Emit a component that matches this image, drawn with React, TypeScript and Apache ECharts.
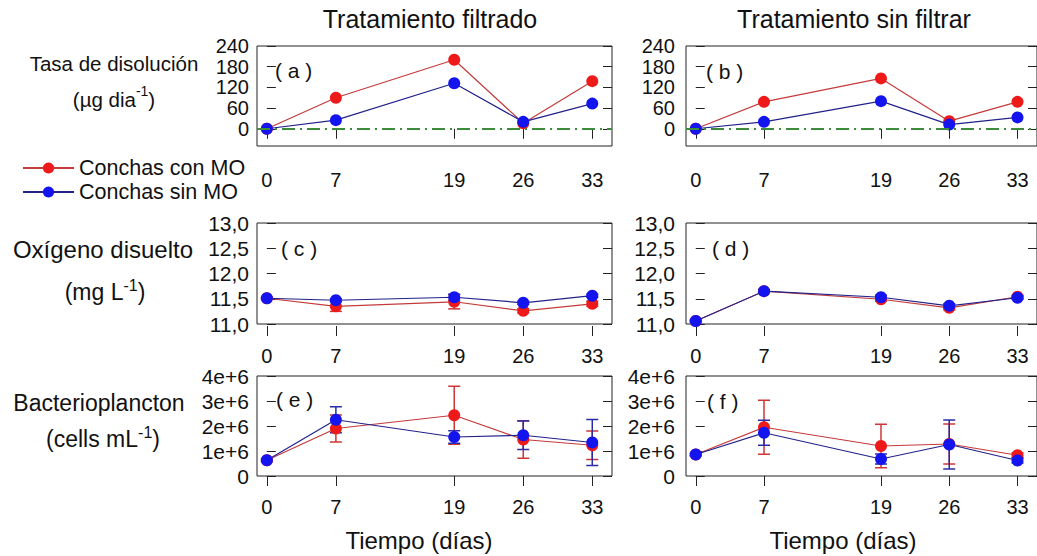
import React, { useEffect, useRef } from "react";
import * as echarts from "echarts";

// ---------- data ----------
const days = [0, 7, 19, 26, 33];

// Tasa de disolución (µg dia-1)
const rateFiltConMO = [0, 90, 200, 16, 138];
const rateFiltSinMO = [0, 25, 132, 20, 73];
const rateUnfConMO = [0, 78, 146, 22, 78];
const rateUnfSinMO = [0, 20, 80, 12, 33];

// Oxígeno disuelto (mg L-1)
const oxyFiltConMO = [11.51, 11.35, 11.44, 11.26, 11.4];
const oxyFiltConMOErr = [0.02, 0.1, 0.14, 0.04, 0.05];
const oxyFiltSinMO = [11.51, 11.47, 11.53, 11.42, 11.56];
const oxyFiltSinMOErr = [0.02, 0.03, 0.06, 0.03, 0.03];
const oxyUnfConMO = [11.06, 11.65, 11.49, 11.32, 11.54];
const oxyUnfConMOErr = [0.02, 0.03, 0.04, 0.04, 0.03];
const oxyUnfSinMO = [11.06, 11.65, 11.53, 11.36, 11.52];
const oxyUnfSinMOErr = [0.02, 0.03, 0.04, 0.04, 0.03];

// Bacterioplancton (cells mL-1)
const bacFiltConMO = [0.63e6, 1.9e6, 2.43e6, 1.46e6, 1.23e6];
const bacFiltConMOErr = [0.05e6, 0.54e6, 1.16e6, 0.75e6, 0.57e6];
const bacFiltSinMO = [0.63e6, 2.25e6, 1.56e6, 1.63e6, 1.34e6];
const bacFiltSinMOErr = [0.05e6, 0.52e6, 0.25e6, 0.57e6, 0.92e6];
const bacUnfConMO = [0.86e6, 1.95e6, 1.2e6, 1.28e6, 0.83e6];
const bacUnfConMOErr = [0.05e6, 1.08e6, 0.87e6, 0.8e6, 0.1e6];
const bacUnfSinMO = [0.86e6, 1.73e6, 0.68e6, 1.26e6, 0.62e6];
const bacUnfSinMOErr = [0.05e6, 0.5e6, 0.2e6, 0.98e6, 0.1e6];

// tick labels
const xTicks = [0, 7, 19, 26, 33];
const rateTicks = [0, 60, 120, 180, 240];
const oxyTicks = [11, 11.5, 12, 12.5, 13];
const bacTicks = [0, 1e6, 2e6, 3e6, 4e6];

const seriesNames = ["Conchas con MO", "Conchas sin MO"];
const colTitles = ["Tratamiento filtrado", "Tratamiento sin filtrar"];
const panelLetters = ["( a )", "( b )", "( c )", "( d )", "( e )", "( f )"];

// ---------- styles / layout ----------
const FONT = "'Liberation Sans', Arial, Helvetica, sans-serif";
const TXT = "#111";
const RED_PT = "#EE1A1A";
const BLUE_PT = "#1414EE";
const RED_LN = "#C53A3A";
const BLUE_LN = "#22228A";
const RED_ERR = "#D03434";
const BLUE_ERR = "#2A2AA8";

const cols = [
  { left: 257, width: 355 },
  { left: 686, width: 354 },
];
const rows = [
  { top: 46, height: 100 },
  { top: 223, height: 101 },
  { top: 376, height: 100 },
];

const rowAxes = [
  { min: -50, max: 240, ticks: rateTicks, fmt: (v: number) => String(v), size: 20 },
  { min: 11, max: 13, ticks: oxyTicks, fmt: (v: number) => v.toFixed(1).replace(".", ","), size: 21 },
  { min: 0, max: 4e6, ticks: bacTicks, fmt: (v: number) => (v === 0 ? "0" : `${Math.round(v / 1e6)}e+6`), size: 21 },
];
const xLabelMargin = [22, 20, 19];

type Panel = { con: number[]; sin: number[]; conErr?: number[]; sinErr?: number[] };
const panels: Panel[] = [
  { con: rateFiltConMO, sin: rateFiltSinMO },
  { con: rateUnfConMO, sin: rateUnfSinMO },
  { con: oxyFiltConMO, sin: oxyFiltSinMO, conErr: oxyFiltConMOErr, sinErr: oxyFiltSinMOErr },
  { con: oxyUnfConMO, sin: oxyUnfSinMO, conErr: oxyUnfConMOErr, sinErr: oxyUnfSinMOErr },
  { con: bacFiltConMO, sin: bacFiltSinMO, conErr: bacFiltConMOErr, sinErr: bacFiltSinMOErr },
  { con: bacUnfConMO, sin: bacUnfSinMO, conErr: bacUnfConMOErr, sinErr: bacUnfSinMOErr },
];

const letterPos = [
  [275, 70],
  [706, 71],
  [281, 248],
  [712, 248],
  [276, 399],
  [707, 401],
];

function errRender(color: string) {
  return (params: any, api: any) => {
    const x = api.value(0);
    const lo = api.coord([x, api.value(1)]);
    const hi = api.coord([x, api.value(2)]);
    const w = 6;
    const style = { stroke: color, lineWidth: 1.5 };
    return {
      type: "group",
      children: [
        { type: "line", shape: { x1: lo[0], y1: lo[1], x2: hi[0], y2: hi[1] }, style },
        { type: "line", shape: { x1: lo[0] - w, y1: lo[1], x2: lo[0] + w, y2: lo[1] }, style },
        { type: "line", shape: { x1: hi[0] - w, y1: hi[1], x2: hi[0] + w, y2: hi[1] }, style },
      ],
    };
  };
}

function buildOption() {
  const grid: any[] = [];
  const xAxis: any[] = [];
  const yAxis: any[] = [];
  const series: any[] = [];

  panels.forEach((p, i) => {
    const r = Math.floor(i / 2);
    const c = i % 2;
    const ax = rowAxes[r];
    grid.push({
      left: cols[c].left,
      width: cols[c].width,
      top: rows[r].top,
      height: rows[r].height,
      show: true,
      borderColor: "#222",
      borderWidth: 1,
      backgroundColor: "transparent",
    });
    xAxis.push({
      type: "value",
      gridIndex: i,
      min: -1,
      max: 35,
      position: "bottom",
      offset: 2,
      axisLine: { show: false },
      splitLine: { show: false },
      axisTick: { show: true, length: 10, lineStyle: { color: "#222", width: 1 }, customValues: xTicks },
      axisLabel: {
        customValues: xTicks,
        fontSize: 20,
        color: TXT,
        fontFamily: FONT,
        margin: xLabelMargin[r],
        hideOverlap: false,
      },
    });
    yAxis.push({
      type: "value",
      gridIndex: i,
      min: ax.min,
      max: ax.max,
      position: "left",
      axisLine: { show: false },
      splitLine: { show: false },
      axisTick: { show: true, inside: true, length: 9, lineStyle: { color: "#222", width: 1 }, customValues: ax.ticks },
      axisLabel: {
        customValues: ax.ticks,
        fontSize: ax.size,
        lineHeight: 12,
        color: TXT,
        fontFamily: FONT,
        margin: c === 0 ? 8 : 11,
        formatter: ax.fmt,
        hideOverlap: false,
        showMinLabel: true,
        showMaxLabel: true,
      },
    });
    yAxis.push({
      type: "value",
      gridIndex: i,
      min: ax.min,
      max: ax.max,
      position: "right",
      axisLine: { show: false },
      splitLine: { show: false },
      axisTick: { show: true, inside: true, length: 9, lineStyle: { color: "#222", width: 1 }, customValues: ax.ticks },
      axisLabel: { show: false },
    });

    if (p.conErr) {
      series.push({
        type: "custom",
        name: "errCon" + i,
        xAxisIndex: i,
        yAxisIndex: 2 * i,
        renderItem: errRender(RED_ERR),
        encode: { x: 0, y: [1, 2] },
        data: days.map((d, k) => [d, p.con[k] - p.conErr![k], p.con[k] + p.conErr![k]]),
        z: 1,
        silent: true,
      });
    }
    if (p.sinErr) {
      series.push({
        type: "custom",
        name: "errSin" + i,
        xAxisIndex: i,
        yAxisIndex: 2 * i,
        renderItem: errRender(BLUE_ERR),
        encode: { x: 0, y: [1, 2] },
        data: days.map((d, k) => [d, p.sin[k] - p.sinErr![k], p.sin[k] + p.sinErr![k]]),
        z: 1,
        silent: true,
      });
    }
    series.push({
      type: "line",
      name: seriesNames[0],
      xAxisIndex: i,
      yAxisIndex: 2 * i,
      data: days.map((d, k) => [d, p.con[k]]),
      symbol: "circle",
      symbolSize: 12,
      itemStyle: { color: RED_PT },
      lineStyle: { color: RED_LN, width: 1.2 },
      z: 3,
      markLine:
        r === 0
          ? {
              silent: true,
              symbol: ["none", "none"],
              label: { show: false },
              lineStyle: { color: "#3C8C3C", width: 2, type: [13, 5, 2, 5] },
              data: [{ yAxis: 0 }],
            }
          : undefined,
    });
    series.push({
      type: "line",
      name: seriesNames[1],
      xAxisIndex: i,
      yAxisIndex: 2 * i,
      data: days.map((d, k) => [d, p.sin[k]]),
      symbol: "circle",
      symbolSize: 12,
      itemStyle: { color: BLUE_PT },
      lineStyle: { color: BLUE_LN, width: 1.2 },
      z: 4,
    });
  });

  const t = (text: string, x: number, y: number, size: number, align = "center") => ({
    type: "text",
    x,
    y,
    silent: true,
    style: { text, fill: TXT, fontSize: size, fontFamily: FONT, align, verticalAlign: "middle" },
  });
  const sup = (main: string, s: string, tail: string, x: number, y: number, size: number) => ({
    type: "text",
    x,
    y,
    silent: true,
    style: {
      text: `{a|${main}}{s|${s}}{a|${tail}}`,
      fill: TXT,
      fontFamily: FONT,
      fontSize: size,
      align: "center",
      verticalAlign: "middle",
      rich: {
        a: { fontSize: size, fontFamily: FONT, fill: TXT, lineHeight: 26, verticalAlign: "bottom" },
        s: { fontSize: Math.round(size * 0.68), fontFamily: FONT, fill: TXT, lineHeight: 17, verticalAlign: "top" },
      },
    },
  });

  const graphic: any[] = [
    t(colTitles[0], 430, 19, 25),
    t(colTitles[1], 854, 19, 25),
    t("Tasa de disolución", 114, 63, 20.5),
    sup("(µg dia", "-1", ")", 114, 97, 20.5),
    t("Oxígeno disuelto", 103, 249, 24),
    sup("(mg L", "-1", ")", 105, 290, 23),
    t("Bacterioplancton", 99, 403, 23),
    sup("(cells mL", "-1", ")", 103, 437, 23),
    t("Tiempo (días)", 419, 540, 24),
    t("Tiempo (días)", 843, 540, 24),
    ...panelLetters.map((l, i) => t(l, letterPos[i][0], letterPos[i][1], 21, "left")),
  ];

  return {
    animation: false,
    backgroundColor: "#fff",
    textStyle: { fontFamily: FONT },
    legend: {
      data: seriesNames,
      orient: "vertical",
      left: 17,
      top: 152,
      itemWidth: 51,
      itemHeight: 14,
      itemGap: 2,
      itemTextGap: 10,
      textStyle: { fontSize: 21.5, color: TXT, fontFamily: FONT, lineHeight: 20 },
      selectedMode: false,
    },
    grid,
    xAxis,
    yAxis,
    series,
    graphic,
  };
}

export default function App() {
  const ref = useRef<HTMLDivElement>(null);
  useEffect(() => {
    const chart = echarts.init(ref.current!, null, { renderer: "svg" });
    chart.setOption(buildOption() as any);
    return () => chart.dispose();
  }, []);
  return (
    <div
      ref={ref}
      style={{ position: "absolute", left: 0, top: 0, width: 1037, height: 556, background: "#fff" }}
    />
  );
}
